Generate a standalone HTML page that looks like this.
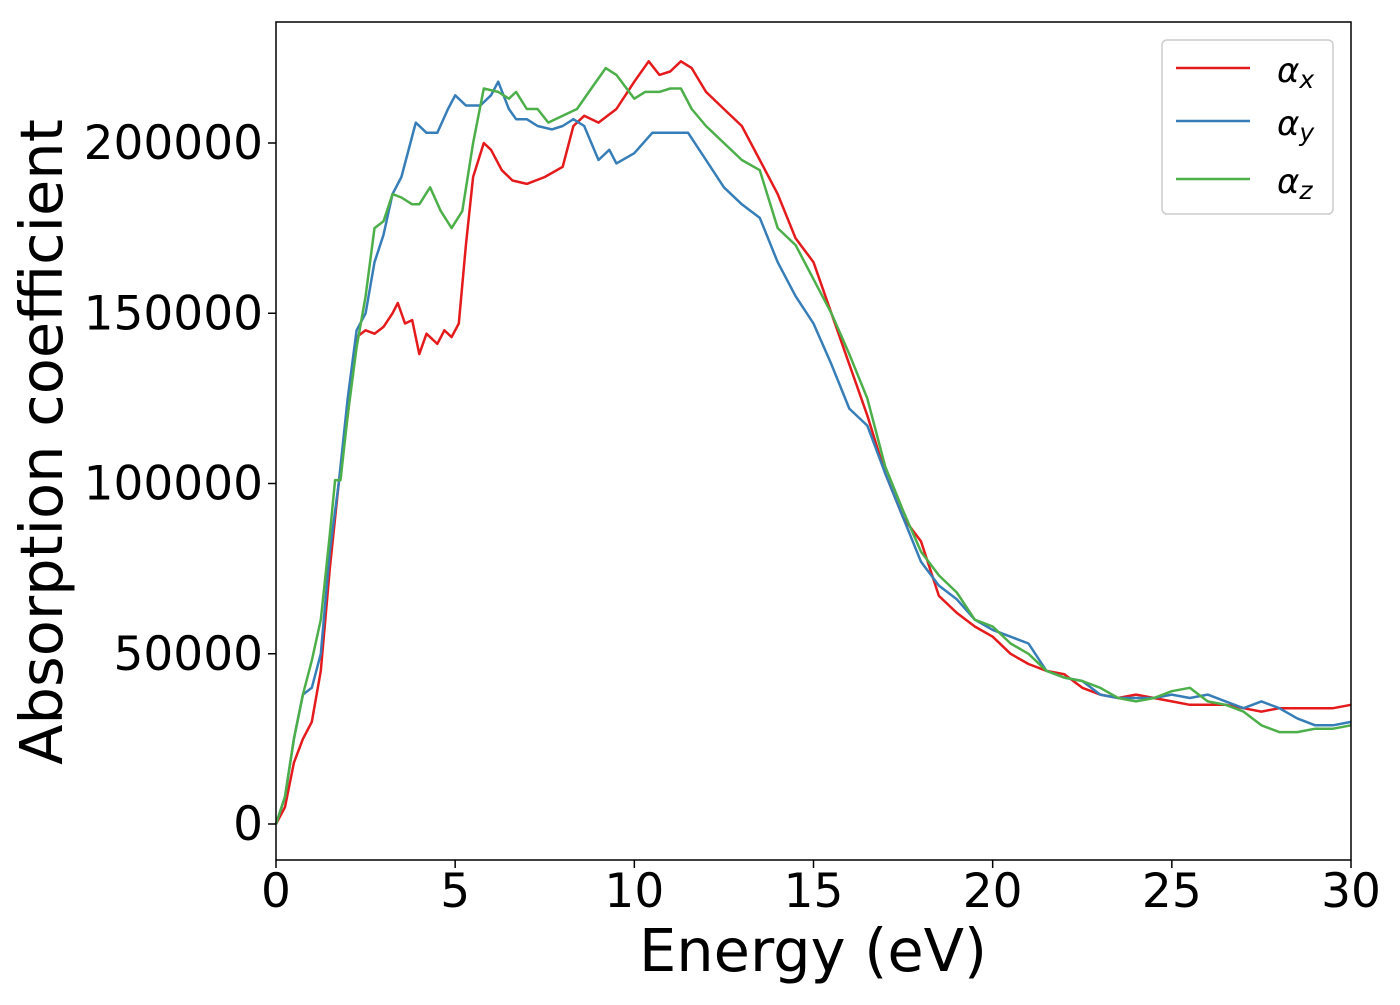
<!DOCTYPE html>
<html><head><meta charset="utf-8"><style>
body{margin:0;background:#fff;}
svg text{font-family:"DejaVu Sans","Liberation Sans",sans-serif;fill:#000;}
</style></head><body>
<svg id="chart" width="1400" height="1000" viewBox="0 0 1400 1000" xmlns="http://www.w3.org/2000/svg">
<rect x="0" y="0" width="1400" height="1000" fill="#fff"/>
<g id="plot"></g>
<g id="axes"></g>
<g id="legend">
<rect x="1162" y="40" width="171" height="174" rx="5" fill="#fff" stroke="#ccc" stroke-width="1.5"/>
<line x1="1176" y1="68" x2="1250" y2="68" stroke="#e41a1c" stroke-width="2.5"/>
<line x1="1176" y1="121" x2="1250" y2="121" stroke="#377eb8" stroke-width="2.5"/>
<line x1="1176" y1="179" x2="1250" y2="179" stroke="#4daf4a" stroke-width="2.5"/>
<text x="1277" y="82" font-size="34" font-style="italic">α<tspan font-size="25" dy="6">x</tspan></text>
<text x="1277" y="135" font-size="34" font-style="italic">α<tspan font-size="25" dy="6">y</tspan></text>
<text x="1277" y="193" font-size="34" font-style="italic">α<tspan font-size="25" dy="6">z</tspan></text>
</g>
</svg>
<script>
const xTicks=[0,5,10,15,20,25,30];
const yTicks=[0,50000,100000,150000,200000];
const redX=[0,0.25,0.5,0.75,1,1.25,1.5,1.75,2,2.25,2.5,2.75,3,3.25,3.4,3.6,3.8,4,4.2,4.5,4.7,4.9,5.1,5.3,5.5,5.8,6,6.3,6.6,7,7.5,8,8.3,8.6,9,9.5,10,10.4,10.7,11,11.3,11.6,12,12.5,13,13.5,14,14.5,15,15.5,16,16.5,17,17.5,18,18.5,19,19.5,20,20.5,21,21.5,22,22.5,23,23.5,24,24.5,25,25.5,26,26.5,27,27.5,28,28.5,29,29.5,30];
const redY=[0,5,18,25,30,45,75,100,120,143,145,144,146,150,153,147,148,138,144,141,145,143,147,170,190,200,198,192,189,188,190,193,205,208,206,210,218,224,220,221,224,222,215,210,205,195,185,172,165,150,135,120,103,90,83,67,62,58,55,50,47,45,44,40,38,37,38,37,36,35,35,35,34,33,34,34,34,34,35];
const blueX=[0,0.25,0.5,0.75,1,1.25,1.5,1.75,2,2.25,2.5,2.75,3,3.25,3.5,3.75,3.9,4.2,4.5,4.8,5,5.3,5.7,6,6.2,6.5,6.7,7,7.3,7.7,8,8.3,8.6,9,9.3,9.5,10,10.5,11,11.5,12,12.5,13,13.5,14,14.5,15,15.5,16,16.5,17,17.5,18,18.5,19,19.5,20,20.5,21,21.5,22,22.5,23,23.5,24,24.5,25,25.5,26,26.5,27,27.5,28,28.5,29,29.5,30];
const blueY=[0,8,25,38,40,50,80,100,125,145,150,165,173,185,190,200,206,203,203,210,214,211,211,214,218,210,207,207,205,204,205,207,205,195,198,194,197,203,203,203,195,187,182,178,165,155,147,135,122,117,103,90,77,70,66,60,57,55,53,45,43,42,38,37,37,37,38,37,38,36,34,36,34,31,29,29,30];
const greenX=[0,0.25,0.5,0.75,1,1.25,1.5,1.65,1.8,2,2.25,2.5,2.75,3,3.25,3.5,3.8,4,4.3,4.6,4.9,5.2,5.5,5.8,6.2,6.5,6.7,7,7.3,7.6,8,8.4,8.8,9.2,9.5,10,10.3,10.7,11,11.3,11.6,12,12.5,13,13.5,14,14.5,15,15.5,16,16.5,17,17.5,18,18.5,19,19.5,20,20.5,21,21.5,22,22.5,23,23.5,24,24.5,25,25.5,26,26.5,27,27.5,28,28.5,29,29.5,30];
const greenY=[0,8,25,38,48,60,85,101,101,120,140,155,175,177,185,184,182,182,187,180,175,180,200,216,215,213,215,210,210,206,208,210,216,222,220,213,215,215,216,216,210,205,200,195,192,175,170,160,150,138,125,105,92,80,73,68,60,58,53,50,45,43,42,40,37,36,37,39,40,36,35,33,29,27,27,28,28,29];
const L=276,R=1351,T=22,B=860;
const sx=v=>L+(v-0)/30*(R-L);
const sy=v=>824-v*681/200000;
const NS='http://www.w3.org/2000/svg';
const plot=document.getElementById('plot'),axes=document.getElementById('axes');
function mk(tag,attrs,parent){const e=document.createElementNS(NS,tag);for(const k in attrs)e.setAttribute(k,attrs[k]);parent.appendChild(e);return e;}
function series(xs,ys,color,name){
  const pts=xs.map((x,i)=>sx(x).toFixed(1)+','+sy(ys[i]*1000).toFixed(1)).join(' ');
  const p=mk('polyline',{points:pts,fill:'none',stroke:color,'stroke-width':2.5,'stroke-linejoin':'round'},plot);
  
  
}
series(redX,redY,'#e41a1c','series-alpha-x');
series(blueX,blueY,'#377eb8','series-alpha-y');
series(greenX,greenY,'#4daf4a','series-alpha-z');
const fr=mk('rect',{x:L,y:T,width:R-L,height:B-T,fill:'none',stroke:'#000','stroke-width':1.5},axes);


xTicks.forEach(t=>{
  mk('line',{x1:sx(t),y1:B,x2:sx(t),y2:B+8,stroke:'#000','stroke-width':1.5},axes);
  const tx=mk('text',{x:sx(t),y:907,'font-size':47,'text-anchor':'middle'},axes);
  tx.textContent=t;
  
  
});
yTicks.forEach(t=>{
  mk('line',{x1:L-8,y1:sy(t),x2:L,y2:sy(t),stroke:'#000','stroke-width':1.5},axes);
  const tx=mk('text',{x:263,y:sy(t)+16,'font-size':47,'text-anchor':'end'},axes);
  tx.textContent=t;
  
  
});
const xl=mk('text',{x:813,y:971,'font-size':59,'text-anchor':'middle'},axes);
xl.textContent='Energy (eV)';


const yl=mk('text',{x:0,y:0,'font-size':59,'text-anchor':'middle',transform:'translate(62,442) rotate(-90)'},axes);
yl.textContent='Absorption coefficient';


</script>
</body></html>
